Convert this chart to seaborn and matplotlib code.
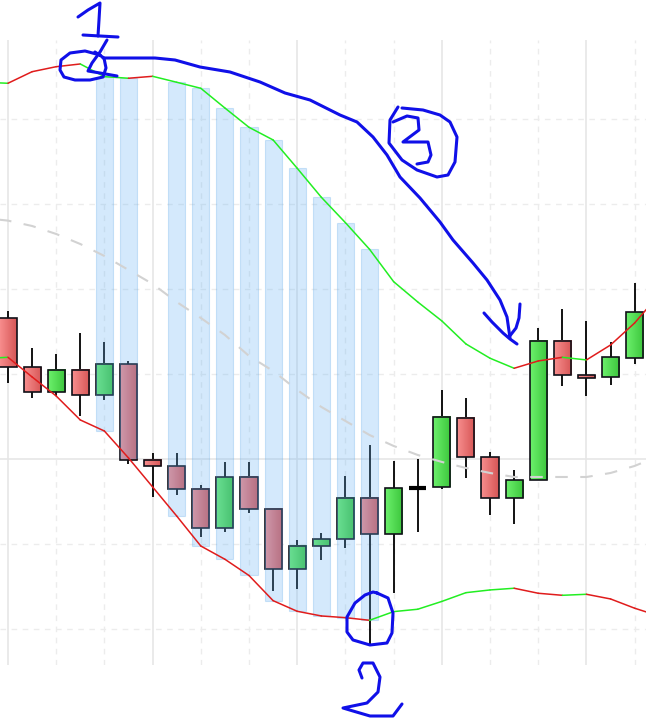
import numpy as np
import matplotlib.pyplot as plt
import seaborn as sns
from matplotlib.colors import LinearSegmentedColormap
from matplotlib.patches import Rectangle
from matplotlib.lines import Line2D

# OHLC for the visible candles (index 0..26)
opens  = [116.55, 110.79, 107.85, 110.47, 107.49, 111.14, 99.85, 99.14, 96.44, 91.85,
          97.85, 94.08, 87.02, 89.73, 90.55, 95.38, 91.14, 96.62, 96.67, 104.79,
          100.20, 95.38, 97.49, 113.88, 109.85, 109.61, 111.85]
highs  = [117.41, 113.06, 112.35, 114.86, 113.76, 111.53, 100.71, 100.71, 96.94, 99.65,
          99.65, 94.20, 90.47, 91.29, 98.00, 101.65, 99.76, 100.00, 108.12, 107.18,
          100.82, 98.71, 115.41, 117.65, 116.24, 113.76, 120.67]
lows   = [108.98, 107.14, 107.45, 105.06, 106.94, 99.38, 95.49, 95.80, 90.86, 91.45,
          93.68, 84.51, 84.74, 88.15, 89.56, 78.12, 84.20, 91.45, 96.51, 97.80,
          93.45, 92.39, 97.49, 108.62, 107.45, 108.74, 111.14]
closes = [110.79, 107.85, 110.47, 107.49, 111.14, 99.85, 99.14, 96.44, 91.85, 97.85,
          94.08, 87.02, 89.73, 90.55, 95.38, 91.14, 96.55, 96.62, 104.91, 100.20,
          95.38, 97.49, 113.88, 109.85, 109.53, 111.96, 117.26]

# channel lines and moving average (index -1..27)
line_idx = list(range(-1, 28))
upper = [144.32, 144.20, 145.56, 146.15, 146.47, 144.98, 144.79, 145.02, 144.32, 143.61,
         141.29, 139.02, 137.53, 134.20, 130.79, 127.80, 124.67, 120.86, 118.47, 116.24,
         113.53, 111.85, 110.67, 111.53, 111.96, 111.65, 113.41, 116.00, 119.29]
lower = [111.82, 111.96, 109.65, 107.41, 104.59, 103.29, 100.12, 96.71, 93.29, 89.76,
         88.20, 86.29, 83.33, 82.08, 81.53, 81.33, 81.02, 82.04, 82.32, 83.24,
         84.27, 84.59, 84.79, 84.20, 83.96, 84.08, 83.53, 82.44, 81.53]
sma = [128.35, 128.04, 127.41, 126.47, 125.29, 123.88, 122.24, 120.59, 118.47, 116.59,
       114.59, 112.12, 110.35, 108.12, 106.12, 104.47, 102.82, 101.53, 100.47, 99.65,
       98.94, 98.35, 97.88, 97.88, 97.88, 97.88, 98.35, 99.18, 100.35]

highlight = [4, 5, 7, 8, 9, 10, 11, 12, 13, 14, 15]

# hand-drawn annotation strokes (image pixels)
strokes = [
    [(78, 17), (88, 10), (100, 3), (99, 20), (98, 36)],
    [(83, 35), (100, 36), (118, 37)],
    [(100, 55), (85, 51), (70, 53), (61, 60), (60, 70), (64, 77), (75, 80), (90, 80),
     (103, 77), (106, 68), (104, 58), (95, 52)],
    [(107, 40), (100, 52), (92, 63), (88, 71), (100, 73), (117, 76)],
    [(103, 58), (130, 58), (155, 58), (175, 60), (200, 67), (230, 72), (260, 82),
     (285, 93), (310, 100), (316, 103), (340, 115), (357, 122), (373, 137), (387, 155),
     (400, 177), (420, 198), (440, 222), (453, 240), (473, 263), (487, 280), (500, 300),
     (507, 317), (510, 338)],
    [(484, 313), (492, 322), (503, 333), (510, 339), (517, 344)],
    [(520, 304), (519, 318), (516, 328), (509, 337)],
    [(398, 107), (390, 120), (389, 143), (402, 160), (417, 170), (437, 177), (448, 175),
     (455, 162), (457, 137), (450, 122), (440, 115), (423, 110), (402, 108)],
    [(393, 122), (407, 116), (418, 118), (419, 130), (403, 142), (428, 142), (431, 155),
     (428, 162), (417, 164)],
    [(377, 593), (388, 598), (393, 613), (392, 633), (387, 643), (370, 645), (353, 640),
     (347, 632), (347, 617), (355, 603), (365, 595), (373, 592), (377, 593)],
    [(362, 678), (359, 670), (363, 663), (373, 663), (380, 677), (378, 692), (367, 703),
     (343, 708), (353, 711), (370, 716), (393, 716), (402, 704)],
]

sns.set_style("white")
W, H = 646, 718
fig = plt.figure(figsize=(W / 100, H / 100), dpi=100)
ax = fig.add_axes([0, 53 / H, 1, 625 / H])

# grid
for yv in [80, 90, 110, 120, 130, 140]:
    ax.axhline(yv, color="#ececec", lw=1, ls=(0, (4, 4)), zorder=0)
ax.axhline(100, color="#e6e6e6", lw=1.2, zorder=0)
for xv in range(0, 27, 2):
    if xv % 6 == 0:
        ax.axvline(xv, color="#e6e6e6", lw=1.2, zorder=0)
    else:
        ax.axvline(xv, color="#ececec", lw=1, ls=(0, (4, 4)), zorder=0)

green_cm = LinearSegmentedColormap.from_list("g", ["#6cf06c", "#3cc63c"])
red_cm = LinearSegmentedColormap.from_list("r", ["#f88e8e", "#d65656"])
grad = np.linspace(0, 1, 40).reshape(1, -1)
bw = 0.71

for i, (o, h, l, c) in enumerate(zip(opens, highs, lows, closes)):
    ax.vlines(i, l, h, color="black", lw=1.3, zorder=1.5)
    lo, hi = min(o, c), max(o, c)
    if hi - lo < 0.2:
        ax.hlines(o, i - bw / 2, i + bw / 2, color="black", lw=3, zorder=3)
        continue
    cm = green_cm if c > o else red_cm
    ax.imshow(grad, cmap=cm, extent=(i - bw / 2, i + bw / 2, lo, hi),
              aspect="auto", zorder=2, interpolation="bilinear")
    ax.add_patch(Rectangle((i - bw / 2, lo), bw, hi - lo, fill=False,
                           edgecolor="#101018", lw=1.2, zorder=3))

# highlighted squeeze columns
for i in highlight:
    k = line_idx.index(i)
    ax.bar(i, upper[k] - lower[k], bottom=lower[k], width=bw,
           color="#66b3f5", alpha=0.28, edgecolor="#5aa6e8", lw=0.8, zorder=4)

# moving average
sns.lineplot(x=line_idx, y=sma, ax=ax, color="#d2d2d2", lw=1.5,
             linestyle=(0, (6, 6)), zorder=5)

# channel lines, coloured segment by segment
for k in range(len(line_idx) - 1):
    xs = [line_idx[k], line_idx[k + 1]]
    cu = "#22ee22" if upper[k + 1] < upper[k] else "#e01c1c"
    ax.plot(xs, [upper[k], upper[k + 1]], color=cu, lw=1.1, zorder=6)
    cl = "#22ee22" if lower[k + 1] > lower[k] else "#e01c1c"
    ax.plot(xs, [lower[k], lower[k + 1]], color=cl, lw=1.1, zorder=6)

ax.set_xlim(-0.33, 26.47)
ax.set_ylim(75.76, 149.29)
ax.set_xticks([])
ax.set_yticks([])
ax.set_xlabel("")
ax.set_ylabel("")
for s in ax.spines.values():
    s.set_visible(False)

for st in strokes:
    xs = [p[0] / W for p in st]
    ys = [1 - p[1] / H for p in st]
    fig.add_artist(Line2D(xs, ys, transform=fig.transFigure, color="#1010e8",
                          lw=2.2, solid_capstyle="round", solid_joinstyle="round"))

fig.savefig("out.png", dpi=100)
